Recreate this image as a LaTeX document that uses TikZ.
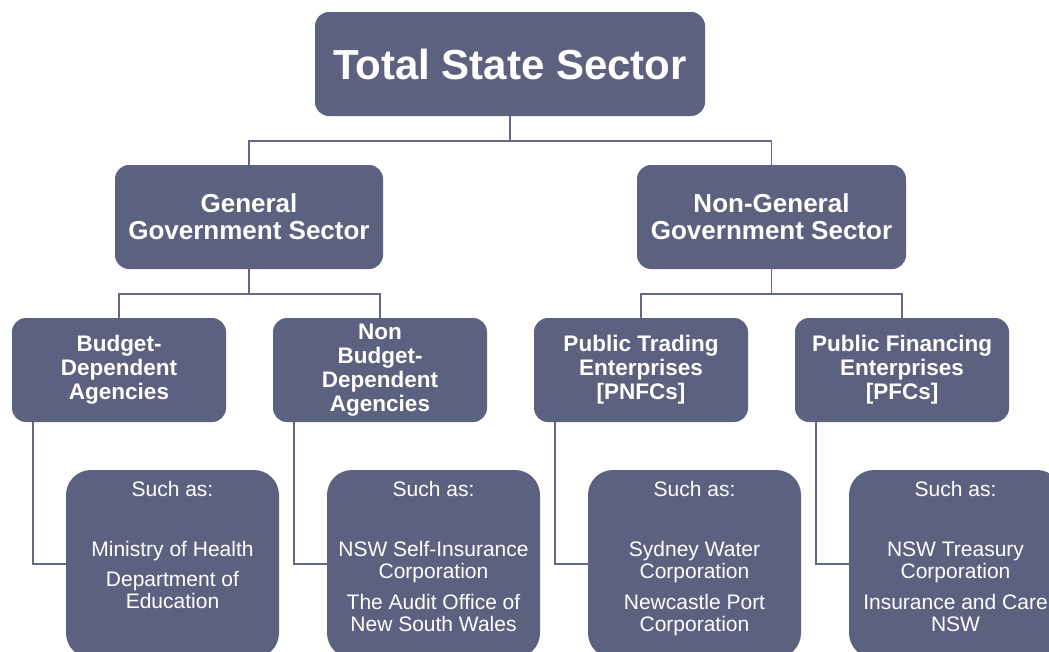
\documentclass[tikz,border=0pt]{standalone}
\usepackage{fontspec}
\setmainfont{Liberation Sans}
\usetikzlibrary{calc}
\definecolor{slate}{RGB}{92,97,128}
\definecolor{wire}{RGB}{98,104,136}
\tikzset{
  box/.style={draw=none, fill=slate, rounded corners=14pt, text=white, align=center, inner sep=0pt, font=\bfseries},
  topbox/.style={box, minimum width=390pt, minimum height=104pt, font=\fontsize{42}{46}\selectfont\bfseries},
  secbox/.style={box, minimum width=268pt, minimum height=104pt, font=\fontsize{26}{27}\selectfont\bfseries},
  subbox/.style={box, minimum width=214pt, minimum height=104pt, font=\fontsize{22.5}{24}\selectfont\bfseries},
  exbox/.style={draw=none, fill=slate, rounded corners=25pt, minimum width=213pt, minimum height=188pt, inner sep=0pt},
  extext/.style={text=white, align=center, inner sep=0pt, anchor=north, font=\fontsize{21}{22}\selectfont},
  wireline/.style={draw=wire, line width=1.5pt}
}
\begin{document}
\begin{tikzpicture}[x=1pt,y=-1pt]
\useasboundingbox (0,0) rectangle (1049,651);
\clip (0,0) rectangle (1049,651);
\fill[white] (0,0) rectangle (1049,651);

% level 1
\node[topbox] (top) at (510,64) {Total State Sector};
% level 2
\node[secbox] (ggs) at (249,217) {General\\Government Sector};
\node[secbox, minimum width=269pt] (nggs) at (771.5,217) {Non-General\\Government Sector};
% level 3
\node[subbox] (bda) at (119,370) {Budget-\\Dependent\\Agencies};
\node[subbox] (nbda) at (380,370) {Non\\Budget-\\Dependent\\Agencies};
\node[subbox] (pte) at (641,370) {Public Trading\\Enterprises\\{[PNFCs]}};
\node[subbox] (pfe) at (902,370) {Public Financing\\Enterprises\\{[PFCs]}};
% level 4
\node[exbox] (ex1) at (172.5,564) {};
\node[exbox] (ex2) at (433.5,564) {};
\node[exbox] (ex3) at (694.5,564) {};
\node[exbox] (ex4) at (955.5,564) {};
\node[extext] (ex1t) at (172.5,481.5) {Such as:\\[38pt]Ministry of Health\\[8pt]Department of\\Education};
\node[extext] (ex2t) at (433.5,481.5) {Such as:\\[38pt]NSW Self-Insurance\\Corporation\\[9pt]The Audit Office of\\New South Wales};
\node[extext] (ex3t) at (694.5,481.5) {Such as:\\[38pt]Sydney Water\\Corporation\\[9pt]Newcastle Port\\Corporation};
\node[extext] (ex4t) at (955.5,481.5) {Such as:\\[38pt]NSW Treasury\\Corporation\\[9pt]Insurance and Care\\NSW};

% connectors
\coordinate (j0) at (510,141);
\coordinate (j1) at (249,294);
\coordinate (j2) at (771.5,294);
\draw[wireline] (top.south) -- (j0);
\draw[wireline] (ggs.north) |- (j0) -| (nggs.north);
\draw[wireline] (ggs.south) -- (j1);
\draw[wireline] (bda.north) |- (j1) -| (nbda.north);
\draw[wireline] (nggs.south) -- (j2);
\draw[wireline] (pte.north) |- (j2) -| (pfe.north);

\draw[wireline] ($(bda.south west)+(21,0)$) |- (ex1.west);
\draw[wireline] ($(nbda.south west)+(21,0)$) |- (ex2.west);
\draw[wireline] ($(pte.south west)+(21,0)$) |- (ex3.west);
\draw[wireline] ($(pfe.south west)+(21,0)$) |- (ex4.west);
\end{tikzpicture}
\end{document}
